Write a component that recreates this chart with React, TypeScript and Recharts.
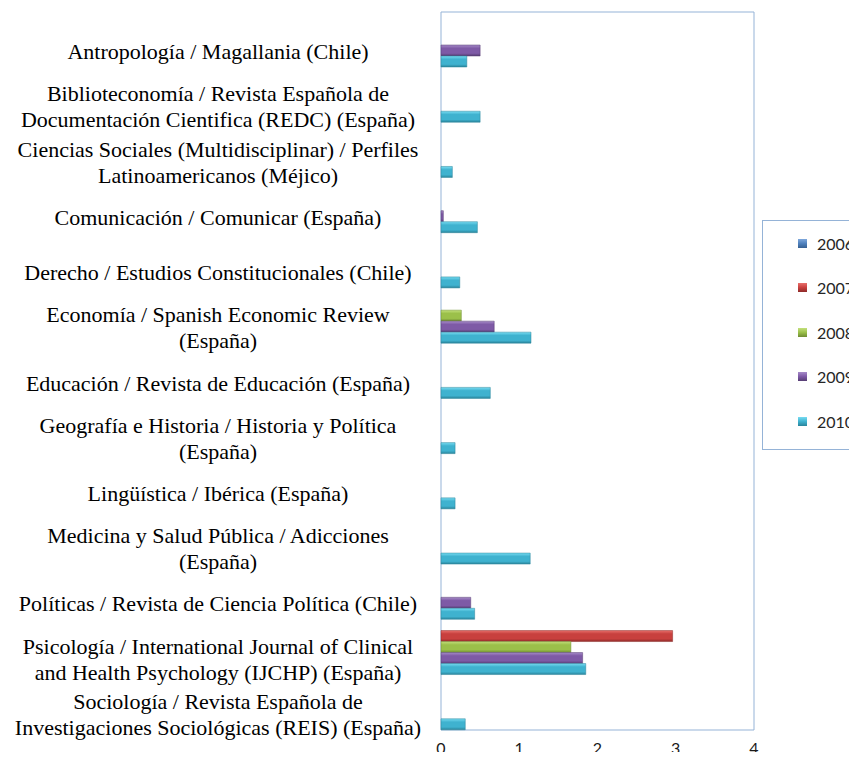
import React from 'react'
import { BarChart, Bar, XAxis, YAxis, Legend, ReferenceArea } from 'recharts'

const categories = [
  'Antropología / Magallania (Chile)',
  'Biblioteconomía / Revista Española de\nDocumentación Cientifica (REDC) (España)',
  'Ciencias Sociales (Multidisciplinar) / Perfiles\nLatinoamericanos (Méjico)',
  'Comunicación / Comunicar (España)',
  'Derecho / Estudios Constitucionales (Chile)',
  'Economía / Spanish Economic Review\n(España)',
  'Educación / Revista de Educación (España)',
  'Geografía e Historia / Historia y Política\n(España)',
  'Lingüística / Ibérica (España)',
  'Medicina y Salud Pública / Adicciones\n(España)',
  'Políticas / Revista de Ciencia Política (Chile)',
  'Psicología / International Journal of Clinical\nand Health Psychology (IJCHP) (España)',
  'Sociología / Revista Española de\nInvestigaciones Sociológicas (REIS) (España)',
]

const years = ['2006', '2007', '2008', '2009', '2010']

const v2006 = [0, 0, 0, 0, 0, 0, 0, 0, 0, 0, 0, 0, 0]
const v2007 = [0, 0, 0, 0, 0, 0, 0, 0, 0, 0, 0, 2.96, 0]
const v2008 = [0, 0, 0, 0, 0, 0.26, 0, 0, 0, 0, 0, 1.66, 0]
const v2009 = [0.5, 0, 0, 0.03, 0, 0.68, 0, 0, 0, 0, 0.38, 1.81, 0]
const v2010 = [0.33, 0.5, 0.145, 0.465, 0.24, 1.15, 0.63, 0.18, 0.18, 1.14, 0.43, 1.85, 0.31]

const xTicks = [0, 1, 2, 3, 4]

// light / mid / dark for the bevelled look
const palette: Record<string, string[]> = {
  '2006': ['#7fa8dc', '#4f81bd', '#365f91'],
  '2007': ['#e8706c', '#c8403e', '#8e2b29'],
  '2008': ['#c3e07c', '#9bc04a', '#6f8c33'],
  '2009': ['#a68bc8', '#7e5aa6', '#563d73'],
  '2010': ['#78dcf2', '#3fb2cf', '#2a849b'],
}

const data = categories.map((name, i) => ({
  name,
  '2006': v2006[i],
  '2007': v2007[i],
  '2008': v2008[i],
  '2009': v2009[i],
  '2010': v2010[i],
}))

const CategoryTick = (props: any) => {
  const { x, y, payload } = props
  const lines: string[] = String(payload.value).split('\n')
  const lineH = 26
  const start = y + 12 - ((lines.length - 1) * lineH) / 2
  return (
    <text
      textAnchor="middle"
      fontFamily="'Liberation Serif', 'Times New Roman', serif"
      fontSize={22}
      fill="#000"
    >
      {lines.map((l, i) => (
        <tspan key={i} x={x - 215} y={start + i * lineH} dominantBaseline="central">
          {l}
        </tspan>
      ))}
    </text>
  )
}

const LegendBox = () => (
  <div
    style={{
      border: '1px solid #95b3d7',
      background: '#fff',
      width: 110,
      height: 230,
      boxSizing: 'border-box',
      fontFamily: 'Lato, sans-serif',
      fontSize: 16,
      color: '#262626',
    }}
  >
    {years.map((yr) => (
      <div key={yr} style={{ display: 'flex', alignItems: 'center', height: 44.5, paddingLeft: 35 }}>
        <span
          style={{
            display: 'inline-block',
            width: 9,
            height: 9,
            marginRight: 10,
            background: `linear-gradient(${palette[yr][0]}, ${palette[yr][1]} 50%, ${palette[yr][2]})`,
          }}
        />
        <span>{yr}</span>
      </div>
    ))}
  </div>
)

export default function App() {
  return (
    <div style={{ margin: -8, width: 857, height: 760, overflow: 'hidden', position: 'relative', background: '#fff' }}>
      <BarChart
        width={857}
        height={760}
        data={data}
        layout="vertical"
        margin={{ top: 12, right: 103, bottom: 0, left: 0 }}
        barCategoryGap={0}
        barGap={0}
      >
        <defs>
          {years.map((yr) => (
            <linearGradient key={yr} id={`g${yr}`} x1="0" y1="0" x2="0" y2="1">
              <stop offset="0%" stopColor={palette[yr][0]} />
              <stop offset="30%" stopColor={palette[yr][1]} />
              <stop offset="75%" stopColor={palette[yr][1]} />
              <stop offset="100%" stopColor={palette[yr][2]} />
            </linearGradient>
          ))}
        </defs>
        <XAxis
          type="number"
          domain={[0, 4]}
          ticks={xTicks}
          height={30}
          axisLine={false}
          tickLine={false}
          tick={{ fontFamily: 'Lato, sans-serif', fontSize: 16, fill: '#1a1a1a' }}
          tickMargin={7}
        />
        <YAxis
          type="category"
          dataKey="name"
          width={441}
          axisLine={false}
          tickLine={false}
          tick={<CategoryTick />}
          interval={0}
        />
        <ReferenceArea x1={0} x2={4} fill="none" stroke="#95b3d7" strokeWidth={1} ifOverflow="visible" />
        {years.map((yr) => (
          <Bar key={yr} dataKey={yr} fill={`url(#g${yr})`} stroke={palette[yr][2]} strokeWidth={0.5} isAnimationActive={false} />
        ))}
        <Legend
          layout="horizontal"
          align="center"
          verticalAlign="middle"
          content={<LegendBox />}
          wrapperStyle={{ position: 'absolute', left: 762, top: 220, width: 120 }}
        />
      </BarChart>
    </div>
  )
}
